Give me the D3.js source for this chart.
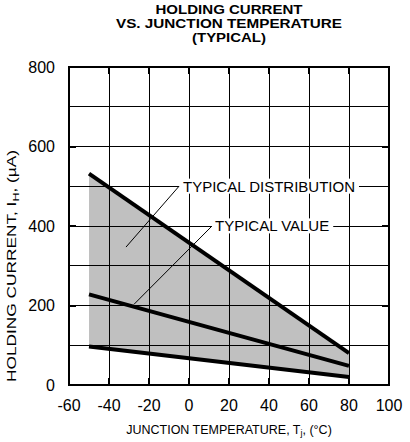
<!DOCTYPE html>
<html>
<head>
<meta charset="utf-8">
<script src="https://cdn.jsdelivr.net/npm/d3@7"></script>
<style>
  body { margin: 0; background: #fff; }
  svg { font-family: "Liberation Sans", Arial, sans-serif; }
</style>
</head>
<body>
<div id="chart"></div>
<script>
// data
const temps = [-50, 80];            // junction temperature, °C
const upperBound = [532, 80];       // top of typical distribution, µA
const typicalValue = [228, 48];     // typical holding current, µA
const lowerBound = [97, 20];        // bottom of typical distribution, µA

const xTicks = [-60, -40, -20, 0, 20, 40, 60, 80, 100];
const yTicks = [0, 200, 400, 600, 800];
const yGrid = [100, 200, 300, 400, 500, 600, 700];

const titleLines = ["HOLDING CURRENT", "VS. JUNCTION TEMPERATURE", "(TYPICAL)"];
const titleWidths = [147, 226, 74];

const width = 410, height = 442;
const margin = {top: 67, right: 21, bottom: 57, left: 69};

const svg = d3.select("#chart").append("svg")
    .attr("width", width)
    .attr("height", height);

const x = d3.scaleLinear().domain([-60, 100]).range([margin.left, width - margin.right]);
const y = d3.scaleLinear().domain([0, 800]).range([height - margin.bottom, margin.top]);
const cx = (x(-60) + x(100)) / 2;

// title, one text per line
svg.append("g").selectAll("text")
    .data(titleLines)
    .join("text")
    .attr("x", cx)
    .attr("y", (d, i) => 14 + i * 14)
    .attr("text-anchor", "middle")
    .attr("font-weight", "bold")
    .attr("font-size", 12)
    .attr("textLength", (d, i) => titleWidths[i])
    .attr("lengthAdjust", "spacingAndGlyphs")
    .text(d => d);

// shaded distribution
const band = temps.map((t, i) => ({t: t, hi: upperBound[i], lo: lowerBound[i]}));
svg.append("path")
    .datum(band)
    .attr("fill", "#c0c0c0")
    .attr("d", d3.area().x(d => x(d.t)).y0(d => y(d.lo)).y1(d => y(d.hi)));

// grid
const grid = svg.append("g").attr("stroke", "#000").attr("stroke-width", 1).attr("shape-rendering", "crispEdges");
grid.selectAll(".vg")
    .data(xTicks.slice(1, -1))
    .join("line")
    .attr("x1", d => x(d)).attr("x2", d => x(d))
    .attr("y1", y(0)).attr("y2", y(800));
grid.selectAll(".hg")
    .data(yGrid)
    .join("line")
    .attr("y1", d => y(d)).attr("y2", d => y(d))
    .attr("x1", x(-60)).attr("x2", x(100));

// inward ticks on all four sides
const tl = 7;
const ticks = svg.append("g").attr("stroke", "#000").attr("stroke-width", 2).attr("shape-rendering", "crispEdges");
xTicks.slice(1, -1).forEach(d => {
    ticks.append("line").attr("x1", x(d)).attr("x2", x(d)).attr("y1", y(0)).attr("y2", y(0) - tl);
    ticks.append("line").attr("x1", x(d)).attr("x2", x(d)).attr("y1", y(800)).attr("y2", y(800) + tl);
});
yTicks.slice(1, -1).forEach(d => {
    ticks.append("line").attr("y1", y(d)).attr("y2", y(d)).attr("x1", x(-60)).attr("x2", x(-60) + tl);
    ticks.append("line").attr("y1", y(d)).attr("y2", y(d)).attr("x1", x(100)).attr("x2", x(100) - tl);
});

// frame
svg.append("rect")
    .attr("x", x(-60)).attr("y", y(800))
    .attr("width", x(100) - x(-60)).attr("height", y(0) - y(800))
    .attr("fill", "none").attr("stroke", "#000").attr("stroke-width", 2);

// annotations: white box behind label, thin leader line
function annotate(label, tx, ty, fromT, fromV, toT, toV) {
    const g = svg.append("g");
    const box = g.append("rect").attr("fill", "#fff");
    const t = g.append("text")
        .attr("x", x(tx)).attr("y", y(ty))
        .attr("dy", "0.36em")
        .attr("font-size", 15)
        .text(label);
    const bb = t.node().getBBox();
    box.attr("x", bb.x - 4).attr("y", bb.y + 1)
        .attr("width", bb.width + 8).attr("height", bb.height - 2);
    g.append("line")
        .attr("x1", x(fromT)).attr("y1", y(fromV))
        .attr("x2", x(toT)).attr("y2", y(toV))
        .attr("stroke", "#000").attr("stroke-width", 1);
}
annotate("TYPICAL DISTRIBUTION", -3, 500, -5, 500, -31.5, 347);
annotate("TYPICAL VALUE", 13, 400, 11.5, 400, -27.5, 203);

// curves
const line = d3.line().x((d, i) => x(temps[i])).y(d => y(d));
[upperBound, typicalValue, lowerBound].forEach(s => {
    svg.append("path")
        .datum(s)
        .attr("fill", "none")
        .attr("stroke", "#000")
        .attr("stroke-width", 4)
        .attr("d", line);
});

// tick labels
svg.append("g").selectAll("text")
    .data(xTicks)
    .join("text")
    .attr("x", d => x(d))
    .attr("y", y(0) + 26)
    .attr("text-anchor", "middle")
    .attr("font-size", 16)
    .text(d => d);
svg.append("g").selectAll("text")
    .data(yTicks)
    .join("text")
    .attr("x", x(-60) - 14)
    .attr("y", d => y(d))
    .attr("dy", "0.36em")
    .attr("text-anchor", "end")
    .attr("font-size", 16)
    .text(d => d);

// axis titles
const xt = svg.append("text")
    .attr("x", cx)
    .attr("y", 434)
    .attr("text-anchor", "middle")
    .attr("font-size", 12.5);
xt.append("tspan").text("JUNCTION TEMPERATURE, T");
xt.append("tspan").attr("font-size", 9).attr("dy", 2).text("j");
xt.append("tspan").attr("dy", -2).text(", (°C)");

const yt = svg.append("text")
    .attr("transform", "translate(16,266) rotate(-90)")
    .attr("text-anchor", "middle")
    .attr("font-size", 12.5)
    .attr("textLength", 232)
    .attr("lengthAdjust", "spacingAndGlyphs");
yt.append("tspan").text("HOLDING CURRENT, I");
yt.append("tspan").attr("font-size", 9).attr("dy", 3).text("H");
yt.append("tspan").attr("dy", -3).text(", (µA)");
</script>
</body>
</html>
